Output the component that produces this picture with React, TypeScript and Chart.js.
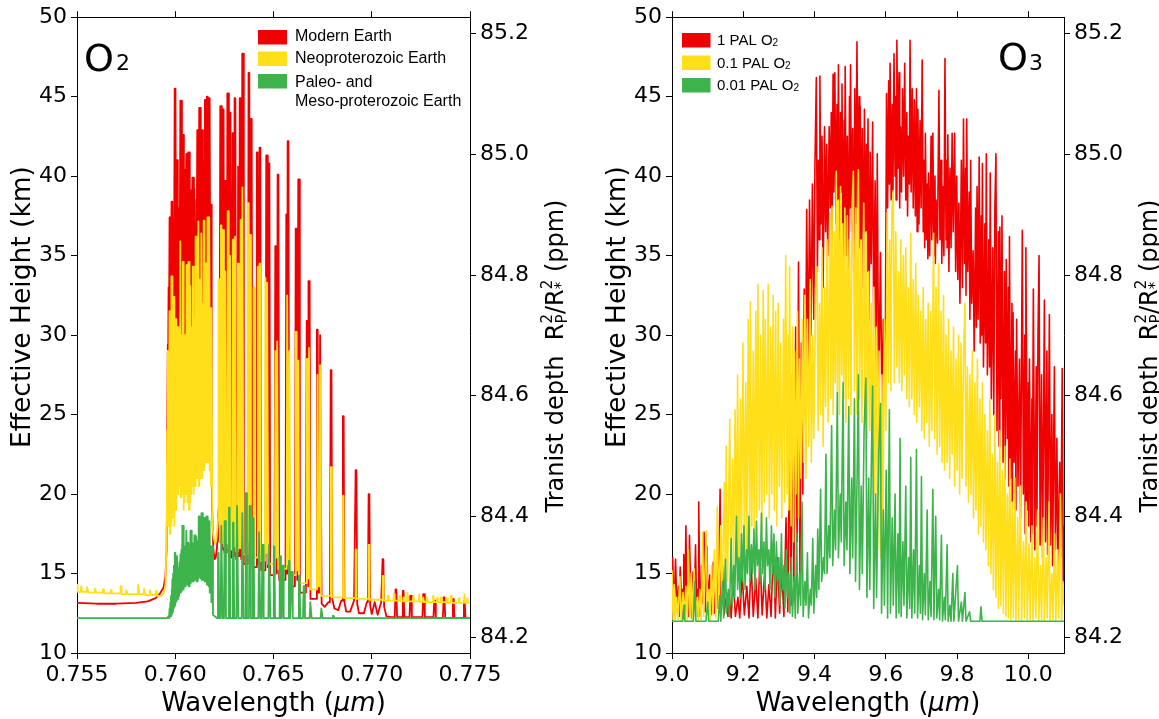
import React, { useEffect, useRef } from "react";
import { Chart, registerables } from "chart.js";

Chart.register(...registerables);

type Pt = [number, number];
// spectrum entry: [wavelength, value] = continuum sample, [wavelength, peak, troughAfter] = absorption line
type Entry = number[];

// ------------------------------------------------------------------ data
const kmRange = [10, 50];
const kmTicks = [10, 15, 20, 25, 30, 35, 40, 45, 50];
const ppmRange = [84.1735, 85.2273];
const ppmTicks = [84.2, 84.4, 84.6, 84.8, 85.0, 85.2];
const o2Range = [0.755, 0.775];
const o2XTicks = [0.755, 0.76, 0.765, 0.77, 0.775];
const o3Range = [9.0, 10.1];
const o3XTicks = [9.0, 9.2, 9.4, 9.6, 9.8, 10.0];

const o2LegendLabels = ["Modern Earth", "Neoproterozoic Earth", "Paleo- and", "Meso-proterozoic Earth"];
const o3LegendLabels = ["1 PAL O", "0.1 PAL O", "0.01 PAL O"];

// O2 A-band, Modern Earth
const o2Modern: Entry[] = [
  [0.755, 13.15], [0.756, 13.1], [0.757, 13.1], [0.758, 13.15], [0.7586, 13.25], [0.759, 13.45], [0.7592, 13.7], [0.7594, 14.1], [0.7595, 14.8], [0.75956, 16.5], [0.7596, 22.0],
  [0.75964, 29.4, 24.5], [0.75968, 33.0, 27.0], [0.75973, 37.4, 28.0], [0.75978, 34.0, 30.0], [0.75983, 38.4, 29.0], [0.75987, 35.0, 30.0], [0.75991, 36.5, 29.0], [0.75995, 33.0, 30.0], [0.75999, 45.5, 30.0], [0.76003, 36.0, 32.0], [0.76007, 41.0, 29.0], [0.76011, 34.0, 31.0], [0.76014, 34.5, 30.0], [0.76018, 36.9, 28.5], [0.76021, 33.0, 31.0], [0.76024, 38.0, 32.0], [0.76028, 44.75, 29.5], [0.76031, 35.0, 32.0], [0.76034, 37.5, 32.0], [0.76038, 42.6, 30.0], [0.76041, 34.0, 31.0], [0.76044, 35.5, 31.0], [0.76048, 40.4, 28.5], [0.76051, 35.0, 31.0], [0.76055, 37.0, 32.0], [0.76058, 41.4, 29.0], [0.76061, 34.0, 31.0], [0.76064, 36.0, 31.0], [0.76068, 41.5, 28.0], [0.76071, 34.0, 30.0], [0.76075, 35.0, 30.0], [0.76079, 39.1, 28.5], [0.76082, 34.0, 30.0], [0.76086, 36.5, 31.0], [0.76089, 39.9, 29.0], [0.76092, 35.0, 30.0], [0.76095, 39.2, 28.0], [0.76098, 33.0, 30.0], [0.76101, 34.0, 31.0], [0.76104, 36.5, 29.5], [0.76107, 35.0, 31.0], [0.7611, 38.5, 32.0], [0.76114, 42.9, 30.0], [0.76117, 36.0, 32.0], [0.7612, 38.0, 32.0], [0.76124, 44.3, 30.5], [0.76127, 36.0, 32.0], [0.76131, 39.0, 32.0], [0.76135, 42.9, 30.0], [0.76138, 35.0, 31.0], [0.76141, 37.5, 31.0], [0.76144, 41.0, 29.5], [0.76147, 36.0, 31.0], [0.7615, 39.0, 32.0], [0.76153, 44.8, 31.0], [0.76156, 37.0, 32.0], [0.7616, 40.0, 32.0], [0.76163, 45.0, 30.5], [0.76166, 36.0, 32.0], [0.7617, 41.0, 32.0], [0.76173, 44.9, 30.0], [0.76177, 34.0, 29.0], [0.76181, 38.2, 26.0],
  [0.76184, 24.0], [0.76188, 19.0], [0.76194, 16.5], [0.762, 15.9], [0.76206, 16.0], [0.76212, 16.6], [0.76216, 17.5], [0.7622, 19.0], [0.76224, 17.0],
  [0.76231, 44.4, 16.5], [0.76244, 44.2, 16.3], [0.76257, 39.7, 16.3], [0.76267, 45.2, 16.1], [0.76279, 44.0, 16.0], [0.76294, 42.7, 16.1], [0.76304, 44.9, 15.9], [0.76322, 40.6, 16.1], [0.7633, 44.9, 15.9], [0.76343, 47.7, 15.6], [0.76375, 46.5, 16.0], [0.76387, 43.6, 15.4], [0.76417, 41.5, 15.6], [0.76431, 41.8, 15.2], [0.76465, 41.3, 15.4], [0.76477, 40.8, 14.9], [0.76511, 35.6, 15.0], [0.76523, 40.1, 14.6], [0.76567, 37.6, 15.0], [0.76574, 42.2, 14.2], [0.76615, 36.7, 14.6], [0.76628, 39.8, 13.8], [0.76671, 30.9, 14.2], [0.76682, 33.4, 13.4], [0.76723, 30.35, 13.8], [0.76739, 30.0, 13.1],
  [0.7676, 12.9], [0.7678, 13.2], [0.76793, 27.8, 13.4], [0.7681, 12.8], [0.7683, 12.7], [0.76845, 13.3], [0.76855, 24.9, 13.2], [0.7687, 12.6], [0.7689, 12.6], [0.7691, 13.3], [0.7692, 21.5, 13.1], [0.76935, 12.5], [0.7696, 12.5], [0.76975, 13.2], [0.76986, 20.0, 13.0], [0.77, 12.45], [0.77015, 13.2], [0.7703, 12.4], [0.77048, 13.2], [0.77057, 15.9, 12.9], [0.77075, 12.3], [0.771, 12.25],
  [0.77123, 14.0, 12.25], [0.7716, 13.9, 12.25], [0.77198, 13.6, 12.25], [0.77264, 13.7, 12.25], [0.7732, 13.3, 12.2], [0.77368, 13.5, 12.2], [0.77415, 13.4, 12.2], [0.77471, 13.3, 12.2], [0.775, 12.2],
];

// O2 A-band, Neoproterozoic Earth
const o2Neo: Entry[] = [
  [0.755, 14.3], [0.75503, 13.85],
  [0.75523, 14.2, 13.85], [0.75553, 14.15, 13.8], [0.75593, 14.05, 13.8], [0.75633, 14.0, 13.75], [0.75673, 13.95, 13.75], [0.75723, 14.2, 13.7], [0.75753, 13.95, 13.7], [0.75813, 14.3, 13.7], [0.75843, 14.05, 13.65], [0.75873, 13.95, 13.65], [0.75903, 13.9, 13.6],
  [0.7593, 13.6], [0.7594, 13.75], [0.7595, 14.2], [0.75956, 17.0],
  [0.7596, 24.0, 20.0], [0.75963, 29.0, 18.0], [0.75967, 26.0, 18.0], [0.75972, 31.5, 17.5], [0.75977, 27.0, 18.0], [0.75983, 33.7, 18.5], [0.75988, 28.0, 19.0], [0.75993, 32.4, 18.0], [0.75998, 27.5, 19.0], [0.76003, 31.0, 19.0], [0.76008, 28.0, 20.0], [0.76013, 30.5, 20.0], [0.76018, 27.0, 20.5], [0.76022, 28.0, 21.0], [0.76027, 35.9, 19.8], [0.76032, 28.5, 20.0], [0.76036, 30.0, 20.0], [0.7604, 34.6, 19.0], [0.76045, 28.0, 19.5], [0.7605, 30.0, 20.0], [0.76055, 28.5, 20.0], [0.76059, 34.4, 19.5], [0.76064, 29.0, 19.5], [0.76069, 34.6, 19.0], [0.76073, 28.0, 19.5], [0.76078, 33.1, 20.0], [0.76082, 28.5, 20.5], [0.76086, 30.5, 21.0], [0.76091, 34.3, 20.0], [0.76096, 28.0, 20.5], [0.761, 31.0, 20.5], [0.76106, 36.2, 21.0], [0.7611, 29.0, 21.0], [0.76114, 32.0, 21.5], [0.76119, 37.15, 20.5], [0.76124, 29.5, 21.0], [0.76129, 33.5, 21.5], [0.76134, 36.4, 21.0], [0.76139, 30.0, 21.5], [0.76143, 32.0, 22.0], [0.76146, 37.2, 21.5], [0.76151, 30.0, 22.0], [0.76156, 34.5, 22.0], [0.76161, 30.5, 22.0], [0.76166, 37.4, 22.5], [0.7617, 30.0, 22.0], [0.76174, 37.4, 21.5], [0.76179, 29.0, 20.5], [0.76185, 31.7, 18.5],
  [0.7619, 17.8], [0.76196, 17.2], [0.76203, 16.9], [0.76209, 17.1], [0.76214, 17.8], [0.76218, 18.5],
  [0.76223, 33.5, 17.0], [0.76234, 36.9, 16.9], [0.76244, 36.6, 16.7], [0.76256, 34.0, 16.9], [0.76268, 37.8, 16.6], [0.7628, 35.0, 16.5], [0.76294, 36.0, 16.7], [0.76306, 36.2, 16.4], [0.7632, 34.5, 16.6], [0.76334, 37.25, 17.0], [0.76343, 39.3, 16.2], [0.7637, 38.3, 17.0], [0.76381, 36.3, 16.1], [0.764, 33.0, 16.0], [0.76421, 34.3, 16.5], [0.7643, 34.5, 15.8], [0.7646, 33.6, 16.3], [0.76469, 33.3, 15.6], [0.76511, 29.0, 16.0], [0.7652, 29.6, 15.3], [0.76571, 32.5, 15.6], [0.76582, 29.0, 14.9], [0.76614, 30.2, 15.2], [0.76626, 28.4, 14.4], [0.76671, 28.5, 14.7], [0.76682, 29.2, 14.0], [0.76725, 27.5, 14.2], [0.76737, 28.1, 13.6], [0.76793, 21.7, 13.5], [0.76855, 19.9, 13.45], [0.76919, 16.5, 13.4], [0.76985, 16.8, 13.35], [0.77057, 14.85, 13.3],
  [0.77083, 13.6, 13.3], [0.77113, 13.7, 13.3], [0.77143, 13.6, 13.25], [0.77163, 13.5, 13.25], [0.77183, 13.8, 13.25], [0.77213, 13.6, 13.25], [0.77243, 13.7, 13.2], [0.77263, 13.5, 13.2], [0.77283, 13.5, 13.2], [0.77313, 13.6, 13.2], [0.77333, 13.45, 13.2], [0.77353, 13.5, 13.2], [0.77383, 13.45, 13.15], [0.77403, 13.6, 13.15], [0.77443, 13.45, 13.15], [0.77473, 13.7, 13.15], [0.77488, 13.45, 13.15], [0.775, 13.15],
];

// O2 A-band, Paleo- and Meso-proterozoic Earth
const o2Paleo: Entry[] = [
  [0.755, 12.2], [0.7596, 12.2],
  [0.75966, 12.3, 12.2], [0.75973, 12.8, 12.3], [0.75977, 13.2, 12.4], [0.7598, 13.6, 12.5], [0.75984, 14.0, 12.6], [0.75987, 14.65, 12.8], [0.75991, 15.0, 12.9], [0.75995, 15.5, 13.0], [0.75999, 16.3, 13.2], [0.76003, 15.2, 13.3], [0.76007, 15.0, 13.5], [0.76011, 16.1, 13.4], [0.76015, 15.3, 13.6], [0.7602, 15.2, 13.8], [0.76024, 15.7, 13.8], [0.76028, 16.2, 13.9], [0.76033, 16.5, 14.0], [0.76038, 18.0, 14.0], [0.76043, 16.0, 14.2], [0.76048, 16.7, 14.2], [0.76053, 16.3, 14.3], [0.76058, 17.7, 14.3], [0.76063, 16.5, 14.3], [0.76068, 16.95, 14.2], [0.76074, 16.6, 14.4], [0.76079, 17.7, 14.5], [0.76084, 16.8, 14.5], [0.76089, 16.9, 14.5], [0.76094, 16.6, 14.6], [0.76099, 17.4, 14.6], [0.76104, 16.9, 14.6], [0.76109, 17.3, 14.5], [0.76115, 17.0, 14.7], [0.76122, 18.6, 14.8], [0.76128, 17.4, 14.7], [0.76135, 18.8, 14.6], [0.7614, 17.5, 14.6], [0.76146, 18.5, 14.5], [0.76153, 17.3, 14.5], [0.7616, 18.6, 14.3], [0.76166, 17.0, 14.2], [0.76173, 18.3, 13.8], [0.7618, 16.0, 13.2], [0.76187, 16.7, 12.4],
  [0.76212, 12.2],
  [0.76219, 16.3, 12.2], [0.76236, 18.0, 12.2], [0.76253, 18.3, 12.2], [0.76275, 19.15, 12.2], [0.76295, 18.2, 12.2], [0.76316, 19.25, 12.2], [0.76343, 18.8, 12.2], [0.7636, 20.05, 12.2], [0.7638, 19.25, 12.2], [0.76397, 18.5, 12.2], [0.76428, 17.6, 12.2], [0.76445, 16.8, 12.2], [0.76479, 16.8, 12.2], [0.76503, 16.7, 12.2], [0.76533, 16.1, 12.2], [0.76547, 15.5, 12.2], [0.7658, 15.8, 12.2], [0.76593, 15.1, 12.2], [0.76631, 14.85, 12.2], [0.76655, 14.2, 12.2], [0.76689, 13.2, 12.2], [0.76745, 12.8, 12.2], [0.76804, 12.35, 12.2],
  [0.775, 12.2],
];

// O3 9.6 um band, 1 PAL O2
const o3Pal1: Pt[] = [
  [9.0, 14.6], [9.002, 16.0], [9.005, 12.4], [9.01, 15.9], [9.014, 12.6], [9.018, 14.2], [9.02, 12.3], [9.023, 15.4], [9.027, 13.1], [9.03, 14.0], [9.031, 12.2], [9.033, 16.2], [9.036, 13.0], [9.039, 18.0], [9.042, 12.8], [9.046, 14.5], [9.047, 12.3], [9.049, 17.4], [9.053, 13.3], [9.056, 12.2], [9.059, 15.1], [9.062, 12.7], [9.066, 16.8], [9.069, 12.9], [9.072, 14.0], [9.073, 12.3], [9.075, 19.5], [9.078, 13.2], [9.081, 12.4], [9.083, 15.5], [9.087, 13.1], [9.09, 17.6], [9.093, 12.6], [9.098, 16.7], [9.101, 13.0], [9.106, 14.9], [9.109, 12.4], [9.113, 13.6], [9.116, 15.7], [9.119, 12.5], [9.124, 14.2], [9.127, 16.3], [9.13, 12.8], [9.135, 20.3], [9.138, 12.6], [9.142, 15.5], [9.146, 12.4], [9.153, 13.8], [9.157, 12.3],
  [9.16, 13.9], [9.166, 12.2], [9.172, 14.6], [9.178, 12.3], [9.185, 13.5], [9.19, 12.2], [9.197, 15.0], [9.203, 12.4], [9.21, 14.2], [9.216, 12.2], [9.222, 15.8], [9.228, 12.3], [9.235, 14.7], [9.241, 12.2], [9.247, 16.2], [9.253, 12.4], [9.26, 15.1], [9.266, 12.2], [9.272, 14.3], [9.278, 12.3], [9.285, 17.0], [9.29, 12.2], [9.296, 16.0], [9.302, 12.5], [9.308, 15.2], [9.314, 12.3], [9.32, 18.5], [9.325, 12.6],
  [9.33, 24.0], [9.334, 13.0], [9.338, 27.5], [9.342, 14.5], [9.347, 30.5], [9.351, 17.0], [9.355, 34.6], [9.359, 15.0], [9.363, 29.5], [9.367, 20.0], [9.371, 32.9], [9.374, 25.0], [9.378, 37.9], [9.382, 28.0], [9.386, 38.5], [9.39, 30.0], [9.394, 39.5], [9.398, 31.0], [9.401, 40.5],
  [9.405, 46.2], [9.408, 34.0], [9.411, 41.0], [9.413, 36.0], [9.415, 46.3], [9.418, 37.0], [9.421, 42.5], [9.424, 33.0], [9.428, 43.1], [9.431, 36.5], [9.434, 42.0], [9.437, 35.0], [9.441, 43.1], [9.444, 38.0], [9.447, 44.0], [9.449, 35.5], [9.452, 46.4], [9.454, 39.0], [9.457, 46.5], [9.46, 37.0], [9.463, 44.5], [9.465, 38.5], [9.467, 47.0], [9.47, 36.0], [9.473, 44.0], [9.475, 39.0], [9.477, 45.8], [9.48, 34.5], [9.483, 43.5], [9.484, 37.5], [9.486, 46.9], [9.489, 35.0], [9.492, 42.5], [9.495, 33.5], [9.498, 45.0], [9.499, 38.0], [9.501, 47.0], [9.504, 36.5], [9.507, 43.0], [9.51, 34.0], [9.513, 45.5], [9.516, 37.0], [9.519, 48.45], [9.522, 38.0], [9.525, 45.0], [9.527, 35.5], [9.528, 44.4], [9.531, 36.0], [9.534, 43.0], [9.537, 33.0], [9.54, 44.2], [9.543, 36.5], [9.546, 42.0], [9.548, 34.0], [9.55, 43.6], [9.553, 31.0], [9.556, 41.5], [9.559, 34.5], [9.563, 43.4], [9.566, 30.5], [9.57, 39.7], [9.573, 28.0], [9.576, 41.4], [9.58, 26.0], [9.585, 35.2], [9.589, 25.5], [9.593, 31.0], [9.596, 29.9], [9.598, 25.8],
  [9.602, 45.2], [9.605, 38.0], [9.608, 46.0], [9.61, 39.5], [9.612, 47.1], [9.615, 38.5], [9.618, 44.5], [9.62, 39.0], [9.623, 47.7], [9.626, 40.0], [9.628, 45.0], [9.629, 38.5], [9.631, 48.55], [9.634, 40.5], [9.637, 46.5], [9.639, 38.0], [9.641, 43.1], [9.644, 39.0], [9.647, 45.5], [9.65, 40.0], [9.653, 47.1], [9.656, 38.5], [9.659, 44.0], [9.661, 37.5], [9.663, 42.5], [9.666, 39.5], [9.668, 48.55], [9.671, 39.0], [9.674, 45.5], [9.677, 38.0], [9.68, 44.8], [9.683, 37.5], [9.686, 45.5], [9.688, 36.5], [9.69, 44.2], [9.693, 37.0], [9.696, 43.5], [9.699, 38.0], [9.702, 47.3], [9.705, 36.5], [9.708, 41.0], [9.709, 35.5], [9.711, 42.7], [9.714, 36.0], [9.717, 39.5], [9.718, 34.8], [9.72, 40.2], [9.723, 35.0], [9.727, 42.5], [9.729, 36.0], [9.732, 42.7], [9.735, 35.0], [9.738, 40.0], [9.739, 34.5], [9.741, 38.5], [9.745, 35.8], [9.749, 45.4], [9.752, 36.0], [9.755, 41.0], [9.757, 34.5], [9.76, 39.35], [9.763, 35.0], [9.766, 47.4], [9.769, 36.0], [9.771, 41.0], [9.772, 35.5], [9.774, 42.6], [9.777, 34.0], [9.78, 40.5], [9.783, 35.5], [9.786, 42.7], [9.789, 36.5], [9.793, 42.7], [9.796, 34.0], [9.799, 40.0], [9.802, 33.5], [9.805, 38.3], [9.808, 32.0], [9.812, 41.0], [9.815, 33.0], [9.818, 43.6], [9.821, 34.5], [9.824, 40.5], [9.825, 32.5], [9.827, 43.6], [9.83, 34.0], [9.834, 39.0], [9.836, 31.0], [9.838, 41.0], [9.841, 32.0], [9.845, 35.3], [9.848, 29.0], [9.852, 38.0], [9.854, 30.5], [9.856, 39.35], [9.859, 31.0], [9.862, 41.2], [9.865, 29.5], [9.868, 37.5], [9.869, 30.0], [9.871, 40.8], [9.874, 28.0], [9.878, 37.0], [9.88, 29.5], [9.882, 41.4], [9.885, 27.5], [9.889, 36.0], [9.891, 28.0], [9.893, 40.2], [9.896, 26.0], [9.9, 35.5], [9.903, 25.0], [9.906, 38.0], [9.909, 41.4], [9.912, 24.0], [9.916, 36.5], [9.918, 23.0], [9.92, 36.8], [9.923, 26.0], [9.926, 37.5], [9.929, 22.0], [9.933, 34.0], [9.935, 21.0], [9.938, 34.75], [9.941, 23.5], [9.944, 33.0], [9.945, 20.5], [9.947, 36.2], [9.95, 21.0], [9.954, 32.0], [9.955, 19.5], [9.957, 31.4], [9.96, 22.0], [9.964, 29.0], [9.965, 19.0], [9.967, 31.0], [9.971, 20.5], [9.975, 28.5], [9.978, 18.5], [9.983, 36.6], [9.986, 20.0], [9.99, 30.0], [9.991, 17.5], [9.993, 35.5], [9.997, 19.0], [10.0, 27.0], [10.001, 18.0], [10.003, 28.5], [10.007, 17.0], [10.01, 26.0], [10.011, 17.5], [10.014, 32.9], [10.018, 16.5], [10.022, 28.0], [10.024, 18.0], [10.027, 30.0], [10.03, 35.0], [10.033, 16.8], [10.037, 27.5], [10.04, 16.0], [10.045, 32.2], [10.048, 17.0], [10.052, 29.0], [10.054, 16.2], [10.059, 31.3], [10.062, 16.8], [10.066, 25.0], [10.068, 15.5], [10.073, 28.0], [10.076, 16.5], [10.08, 23.5], [10.083, 15.5], [10.088, 22.0], [10.091, 16.0], [10.095, 27.9], [10.098, 14.4], [10.1, 18.0],
];

// O3 9.6 um band, 0.1 PAL O2
const o3Pal01: Pt[] = [
  [9.0, 15.2], [9.003, 12.1], [9.006, 14.3], [9.009, 12.0], [9.013, 13.5], [9.017, 12.1], [9.022, 14.8], [9.026, 12.0], [9.031, 13.8], [9.034, 12.2], [9.039, 14.2], [9.043, 12.0], [9.046, 16.5], [9.05, 12.2], [9.054, 15.0], [9.057, 12.0], [9.062, 15.3], [9.066, 12.3], [9.071, 13.5], [9.074, 12.0], [9.078, 14.0], [9.082, 12.1], [9.086, 17.6], [9.089, 12.3], [9.096, 17.7], [9.1, 12.5], [9.104, 14.0], [9.107, 12.1], [9.111, 15.5], [9.115, 12.4], [9.119, 16.5], [9.123, 12.2], [9.127, 19.2], [9.131, 12.6], [9.137, 18.0], [9.14, 13.0], [9.147, 20.7], [9.15, 13.5], [9.152, 23.0], [9.156, 14.5], [9.162, 24.7], [9.165, 15.0], [9.17, 22.2], [9.173, 15.5], [9.177, 25.3], [9.181, 16.0], [9.184, 27.5], [9.188, 15.0], [9.192, 26.0], [9.195, 16.5], [9.199, 29.5], [9.203, 17.0], [9.207, 27.0], [9.21, 16.0], [9.214, 31.0], [9.218, 17.5], [9.22, 32.1], [9.224, 18.0], [9.228, 29.0], [9.231, 16.5], [9.235, 31.5], [9.238, 18.5], [9.241, 33.2], [9.245, 19.0], [9.249, 30.0], [9.252, 17.5], [9.256, 32.8], [9.259, 19.5], [9.262, 31.0], [9.266, 20.0], [9.27, 33.2], [9.273, 18.5], [9.277, 30.5], [9.28, 20.0], [9.284, 32.5], [9.287, 19.0], [9.291, 31.5], [9.294, 18.0], [9.298, 32.0], [9.301, 20.5], [9.305, 29.5], [9.308, 18.5], [9.313, 31.0], [9.316, 19.5], [9.319, 35.0], [9.323, 20.0], [9.326, 30.0], [9.328, 19.0], [9.33, 34.3], [9.334, 18.0], [9.338, 30.5], [9.341, 17.0], [9.344, 29.0], [9.348, 20.0], [9.352, 31.5], [9.355, 18.5], [9.358, 28.5], [9.362, 21.0], [9.366, 31.0], [9.369, 22.0], [9.373, 32.5], [9.376, 21.0], [9.38, 31.0], [9.384, 23.0], [9.388, 33.5], [9.391, 22.0], [9.395, 30.0], [9.398, 23.5], [9.403, 33.0], [9.407, 34.3], [9.41, 24.0], [9.414, 32.0], [9.417, 25.0], [9.421, 35.5], [9.424, 23.0], [9.428, 33.0], [9.431, 25.5], [9.435, 36.0], [9.438, 24.5], [9.443, 37.7], [9.446, 26.0], [9.449, 38.1], [9.452, 25.0], [9.455, 36.5], [9.458, 27.0], [9.461, 40.3], [9.464, 26.5], [9.467, 38.5], [9.47, 25.0], [9.473, 39.35], [9.476, 27.5], [9.479, 37.0], [9.482, 26.0], [9.485, 38.0], [9.488, 24.5], [9.492, 37.5], [9.495, 26.0], [9.498, 36.0], [9.502, 25.0], [9.505, 38.0], [9.509, 40.3], [9.512, 26.5], [9.516, 38.0], [9.519, 25.0], [9.523, 40.4], [9.526, 26.0], [9.53, 36.0], [9.533, 24.5], [9.538, 38.3], [9.541, 25.5], [9.545, 36.5], [9.548, 23.5], [9.552, 34.0], [9.555, 24.0], [9.559, 32.0], [9.562, 22.5], [9.566, 33.0], [9.569, 20.0], [9.573, 30.5], [9.577, 16.5], [9.581, 29.0], [9.585, 16.0], [9.589, 27.5], [9.592, 18.0], [9.596, 31.0], [9.6, 24.0], [9.604, 37.7], [9.607, 27.0], [9.611, 36.0], [9.614, 26.5], [9.617, 38.0], [9.621, 39.1], [9.624, 27.0], [9.628, 36.5], [9.631, 28.0], [9.635, 34.0], [9.638, 27.0], [9.642, 36.0], [9.645, 26.5], [9.649, 35.0], [9.652, 27.5], [9.656, 35.5], [9.659, 26.0], [9.663, 33.0], [9.666, 25.5], [9.67, 36.4], [9.673, 26.0], [9.677, 33.5], [9.68, 25.0], [9.684, 34.5], [9.687, 24.5], [9.691, 32.5], [9.694, 25.5], [9.698, 31.5], [9.701, 24.0], [9.705, 33.0], [9.708, 23.5], [9.712, 31.0], [9.715, 24.5], [9.719, 32.0], [9.722, 23.0], [9.726, 31.5], [9.729, 24.0], [9.734, 36.4], [9.737, 23.5], [9.741, 33.0], [9.744, 22.5], [9.748, 34.5], [9.751, 23.0], [9.755, 31.5], [9.758, 22.0], [9.762, 32.5], [9.765, 21.5], [9.769, 30.0], [9.772, 22.0], [9.776, 31.0], [9.779, 21.0], [9.783, 29.0], [9.786, 22.5], [9.79, 30.5], [9.793, 20.5], [9.797, 28.5], [9.8, 21.5], [9.804, 30.0], [9.807, 20.0], [9.811, 29.5], [9.814, 21.0], [9.818, 28.5], [9.822, 32.0], [9.825, 20.5], [9.829, 28.0], [9.832, 19.5], [9.836, 27.5], [9.839, 20.0], [9.843, 29.0], [9.846, 18.5], [9.85, 27.0], [9.853, 19.0], [9.857, 28.5], [9.86, 17.5], [9.864, 26.0], [9.867, 18.0], [9.871, 27.0], [9.874, 17.0], [9.878, 25.0], [9.881, 16.5], [9.885, 24.0], [9.888, 15.5], [9.892, 26.0], [9.895, 15.0], [9.899, 22.5], [9.902, 14.0], [9.906, 25.0], [9.909, 13.5], [9.913, 22.0], [9.916, 12.8], [9.92, 24.0], [9.923, 13.0], [9.927, 21.5], [9.93, 12.5], [9.934, 23.0], [9.937, 12.3], [9.941, 20.0], [9.944, 12.2], [9.948, 22.2], [9.951, 12.1], [9.955, 19.5], [9.958, 12.2], [9.962, 21.0], [9.965, 12.0], [9.97, 18.5], [9.973, 12.1], [9.978, 20.5], [9.981, 12.0], [9.986, 17.0], [9.989, 12.2], [9.994, 19.5], [9.997, 12.0], [10.002, 16.9], [10.005, 12.1], [10.01, 18.0], [10.013, 12.0], [10.018, 16.0], [10.021, 12.2], [10.026, 19.0], [10.029, 12.0], [10.034, 15.5], [10.037, 12.1], [10.042, 18.5], [10.045, 12.0], [10.05, 16.0], [10.053, 12.2], [10.058, 19.5], [10.061, 12.0], [10.066, 15.0], [10.069, 12.1], [10.074, 17.5], [10.077, 12.0], [10.082, 16.5], [10.085, 12.2], [10.09, 20.0], [10.093, 12.0], [10.097, 14.5], [10.1, 13.0],
];

// O3 9.6 um band, 0.01 PAL O2
const o3Pal001: Pt[] = [
  [9.0, 12.0], [9.03, 12.0], [9.034, 13.0], [9.036, 12.0], [9.06, 12.0], [9.064, 14.5], [9.067, 12.0], [9.095, 12.0], [9.1, 13.2], [9.103, 12.0], [9.13, 12.0], [9.134, 13.6], [9.137, 12.0], [9.142, 14.5], [9.145, 12.2], [9.15, 15.9], [9.153, 12.5], [9.158, 14.0], [9.161, 12.3], [9.166, 17.2], [9.169, 13.0], [9.173, 15.5], [9.176, 13.5], [9.181, 18.6], [9.184, 14.0], [9.188, 16.0], [9.191, 13.5], [9.195, 17.5], [9.198, 14.5], [9.202, 18.0], [9.205, 14.0], [9.209, 16.5], [9.212, 15.0], [9.216, 18.6], [9.219, 14.5], [9.223, 16.8], [9.226, 15.0], [9.23, 17.8], [9.233, 14.0], [9.237, 18.3], [9.24, 15.5], [9.244, 16.5], [9.247, 14.5], [9.251, 18.8], [9.254, 15.0], [9.258, 17.0], [9.261, 14.0], [9.265, 18.5], [9.268, 15.5], [9.272, 16.5], [9.275, 14.0], [9.279, 18.0], [9.282, 15.0], [9.286, 17.5], [9.289, 13.5], [9.293, 17.0], [9.296, 14.5], [9.3, 16.0], [9.303, 13.0], [9.307, 17.5], [9.31, 14.0], [9.314, 15.5], [9.317, 12.8], [9.321, 16.5], [9.324, 13.5], [9.328, 15.0], [9.331, 12.5], [9.335, 16.0], [9.338, 12.3], [9.343, 14.8], [9.346, 12.2], [9.35, 17.5], [9.353, 12.5], [9.358, 15.0], [9.361, 13.0], [9.365, 19.5], [9.368, 12.3], [9.373, 14.5], [9.376, 13.0], [9.38, 16.3], [9.383, 12.2], [9.388, 14.0], [9.391, 13.0], [9.395, 17.2], [9.398, 12.5], [9.403, 15.5], [9.406, 13.5], [9.409, 17.8], [9.412, 14.0], [9.417, 20.3], [9.42, 14.5], [9.425, 16.0], [9.428, 15.0], [9.432, 22.5], [9.435, 15.0], [9.44, 18.0], [9.443, 16.0], [9.448, 24.3], [9.451, 15.5], [9.456, 19.0], [9.459, 16.5], [9.464, 26.4], [9.467, 16.0], [9.472, 20.0], [9.475, 17.0], [9.48, 27.0], [9.483, 15.5], [9.488, 19.5], [9.491, 16.5], [9.496, 25.5], [9.499, 15.0], [9.504, 21.0], [9.507, 16.0], [9.512, 26.0], [9.515, 14.5], [9.52, 22.0], [9.523, 27.5], [9.526, 14.0], [9.531, 20.5], [9.534, 15.0], [9.539, 24.0], [9.544, 27.3], [9.547, 13.5], [9.552, 21.0], [9.555, 14.0], [9.56, 23.0], [9.563, 26.8], [9.566, 12.8], [9.571, 20.0], [9.574, 13.5], [9.58, 22.5], [9.585, 25.7], [9.588, 12.5], [9.593, 19.0], [9.596, 13.0], [9.601, 21.5], [9.605, 12.2], [9.61, 25.3], [9.613, 12.5], [9.618, 18.5], [9.621, 13.0], [9.626, 20.0], [9.629, 12.2], [9.634, 17.5], [9.637, 12.5], [9.64, 23.5], [9.643, 12.3], [9.648, 17.0], [9.651, 13.0], [9.656, 20.5], [9.659, 12.2], [9.664, 16.0], [9.667, 12.8], [9.67, 22.3], [9.673, 12.2], [9.678, 16.5], [9.681, 12.5], [9.686, 22.8], [9.689, 12.2], [9.694, 15.5], [9.697, 12.5], [9.7, 21.1], [9.703, 12.1], [9.708, 15.0], [9.711, 12.4], [9.716, 19.0], [9.719, 12.1], [9.724, 14.5], [9.727, 12.3], [9.732, 20.3], [9.735, 12.1], [9.74, 18.6], [9.743, 12.2], [9.748, 14.0], [9.751, 12.1], [9.756, 17.4], [9.759, 12.0], [9.764, 13.5], [9.767, 12.1], [9.772, 16.8], [9.775, 12.0], [9.78, 13.0], [9.783, 12.0], [9.788, 15.0], [9.791, 12.0], [9.801, 15.5], [9.804, 12.0], [9.812, 13.2], [9.815, 12.0], [9.822, 13.8], [9.825, 12.0], [9.835, 12.6], [9.838, 12.0], [9.864, 12.0], [9.867, 12.9], [9.87, 12.0], [10.1, 12.0],
];

// ------------------------------------------------------------------ styles
const RED = "#f00000";
const YELLOW = "#ffdf1a";
const GREEN = "#3cb44b";
const FAMILY = "DejaVu Sans";
const LEG_FAMILY = "Liberation Sans";

// drawn half-width (um) of one O2 absorption line for each atmosphere
const HW_MODERN = 0.00006;
const HW_NEO = 0.00004;
const HW_PALEO = 0.00005;

function spectrum(entries: Entry[], hw: number) {
  const pts: { x: number; y: number }[] = [];
  let last = entries[0][1];
  for (const e of entries) {
    if (e.length === 2) {
      pts.push({ x: e[0], y: e[1] });
      last = e[1];
    } else {
      pts.push(
        { x: e[0] - hw, y: last },
        { x: e[0] - hw / 3, y: e[1] },
        { x: e[0] + hw / 3, y: e[1] },
        { x: e[0] + hw, y: e[2] }
      );
      last = e[2];
    }
  }
  return pts;
}

function polyline(data: Pt[]) {
  return data.map(([x, y]) => ({ x, y }));
}

function font(size: number, family = FAMILY, italic = false) {
  return `${italic ? "italic " : ""}${size}px "${family}"`;
}

type Seg = { t: string; size: number; italic?: boolean } | { sup: string; sub: string; size: number; supDy: number; subDy: number };

function segWidth(ctx: CanvasRenderingContext2D, s: Seg) {
  if ("t" in s) {
    ctx.font = font(s.size, FAMILY, !!s.italic);
    return ctx.measureText(s.t).width;
  }
  ctx.font = font(s.size);
  return Math.max(ctx.measureText(s.sup).width, ctx.measureText(s.sub).width);
}

function drawSegs(ctx: CanvasRenderingContext2D, segs: Seg[], x: number, y: number) {
  const widths = segs.map((s) => segWidth(ctx, s));
  const total = widths.reduce((a, b) => a + b, 0);
  let cur = x - total / 2;
  ctx.textAlign = "left";
  ctx.textBaseline = "alphabetic";
  segs.forEach((s, i) => {
    if ("t" in s) {
      ctx.font = font(s.size, FAMILY, !!s.italic);
      ctx.fillText(s.t, cur, y);
    } else {
      ctx.font = font(s.size);
      ctx.fillText(s.sup, cur, y + s.supDy);
      ctx.fillText(s.sub, cur, y + s.subDy);
    }
    cur += widths[i];
  });
}

function drawRotated(ctx: CanvasRenderingContext2D, segs: Seg[], x: number, y: number) {
  ctx.save();
  ctx.translate(x, y);
  ctx.rotate(-Math.PI / 2);
  drawSegs(ctx, segs, 0, 0);
  ctx.restore();
}

const leftTitle: Seg[] = [{ t: "Effective Height (km)", size: 26.5 }];
const xTitle: Seg[] = [
  { t: "Wavelength (", size: 26 },
  { t: "\u03bcm", size: 26, italic: true },
  { t: ")", size: 26 },
];
const rightTitle: Seg[] = [
  { t: "Tranist depth  R", size: 24 },
  { sup: "2", sub: "P", size: 15, supDy: -11, subDy: 4 },
  { t: "/R", size: 24 },
  { sup: "2", sub: "*", size: 15, supDy: -11, subDy: 3 },
  { t: " (ppm)", size: 24 },
];

function drawCommon(ctx: CanvasRenderingContext2D, a: any) {
  drawRotated(ctx, leftTitle, a.left - 47, 307);
  drawSegs(ctx, xTitle, (a.left + a.right) / 2, 711);
  drawRotated(ctx, rightTitle, a.right + 93, 356);
}

function decorateO2(ctx: CanvasRenderingContext2D, a: any) {
  ctx.save();
  ctx.fillStyle = "#000";
  ctx.textAlign = "left";
  ctx.textBaseline = "alphabetic";
  ctx.font = font(38);
  ctx.fillText("O", a.left + 7, 71);
  const ow = ctx.measureText("O").width;
  ctx.font = font(22);
  ctx.fillText("2", a.left + 7 + ow + 2, 70);
  const colors = [RED, YELLOW, GREEN];
  const boxTops = [30, 51.5, 74];
  colors.forEach((c, i) => {
    ctx.fillStyle = c;
    ctx.fillRect(a.left + 181, boxTops[i], 29, 14.5);
  });
  ctx.fillStyle = "#000";
  ctx.font = font(16, LEG_FAMILY);
  const baselines = [41, 63, 87, 106];
  o2LegendLabels.forEach((t, i) => ctx.fillText(t, a.left + 218, baselines[i]));
  drawCommon(ctx, a);
  ctx.restore();
}

function decorateO3(ctx: CanvasRenderingContext2D, a: any) {
  ctx.save();
  ctx.fillStyle = "#000";
  ctx.textAlign = "left";
  ctx.textBaseline = "alphabetic";
  ctx.font = font(38);
  ctx.fillText("O", a.right - 66, 70);
  const ow = ctx.measureText("O").width;
  ctx.font = font(22);
  ctx.fillText("3", a.right - 66 + ow + 1, 70);
  const colors = [RED, YELLOW, GREEN];
  const boxTops = [33, 55.5, 78];
  colors.forEach((c, i) => {
    ctx.fillStyle = c;
    ctx.fillRect(a.left + 10, boxTops[i], 28.5, 14.5);
  });
  ctx.fillStyle = "#000";
  const baselines = [45, 67.5, 90];
  o3LegendLabels.forEach((t, i) => {
    ctx.font = font(15, LEG_FAMILY);
    ctx.fillText(t, a.left + 45, baselines[i]);
    const w = ctx.measureText(t).width;
    ctx.font = font(10, LEG_FAMILY);
    ctx.fillText("2", a.left + 45 + w, baselines[i] + 1);
  });
  drawCommon(ctx, a);
  ctx.restore();
}

interface PanelSpec {
  leftW: number;
  rightW: number;
  xRange: number[];
  xTicks: number[];
  xDigits: number;
  lineWidth: number;
  series: { data: { x: number; y: number }[]; color: string }[];
  decorate: (ctx: CanvasRenderingContext2D, a: any) => void;
}

function buildChart(canvas: HTMLCanvasElement, spec: PanelSpec) {
  const tickFont = { family: FAMILY, size: 22 };
  const grid = { display: true, drawOnChartArea: false, drawTicks: true, tickLength: 6, color: "#000", tickColor: "#000", tickWidth: 1 };
  const border = { display: true, color: "#000", width: 1 };
  const n = spec.series.length;
  const datasets = spec.series.map((s, i) => ({
    data: s.data,
    borderColor: s.color,
    backgroundColor: s.color,
    borderWidth: spec.lineWidth,
    pointRadius: 0,
    tension: 0,
    fill: false,
    borderJoinStyle: "round",
    order: n - i,
    xAxisID: "x",
    yAxisID: "y",
  }));
  const setTicks = (vals: number[]) => (scale: any) => {
    scale.ticks = vals.map((v) => ({ value: v }));
  };
  return new Chart(canvas, {
    type: "line",
    data: { datasets } as any,
    options: {
      animation: false,
      responsive: false,
      events: [],
      layout: { padding: 0 },
      plugins: { legend: { display: false }, tooltip: { enabled: false } },
      scales: {
        x: {
          type: "linear",
          position: "bottom",
          min: spec.xRange[0],
          max: spec.xRange[1],
          afterBuildTicks: setTicks(spec.xTicks),
          ticks: { font: tickFont, color: "#000", padding: 3, maxRotation: 0, minRotation: 0, autoSkip: false, callback: (v: any) => Number(v).toFixed(spec.xDigits) },
          grid,
          border,
          afterFit: (s: any) => { s.height = 66; },
        },
        x2: {
          type: "linear",
          position: "top",
          min: spec.xRange[0],
          max: spec.xRange[1],
          afterBuildTicks: setTicks(spec.xTicks),
          ticks: { font: tickFont, color: "#000", maxRotation: 0, autoSkip: false, callback: () => "" },
          grid,
          border,
          afterFit: (s: any) => { s.height = 17; },
        },
        y: {
          type: "linear",
          position: "left",
          min: kmRange[0],
          max: kmRange[1],
          afterBuildTicks: setTicks(kmTicks),
          ticks: { font: tickFont, color: "#000", padding: 4, callback: (v: any) => String(v) },
          grid,
          border,
          afterFit: (s: any) => { s.width = spec.leftW; },
        },
        y2: {
          type: "linear",
          position: "right",
          min: ppmRange[0],
          max: ppmRange[1],
          afterBuildTicks: setTicks(ppmTicks),
          ticks: { font: tickFont, color: "#000", padding: 4, callback: (v: any) => Number(v).toFixed(1) },
          grid,
          border,
          afterFit: (s: any) => { s.width = spec.rightW; },
        },
      },
    } as any,
    plugins: [
      {
        id: "decor",
        afterDraw: (chart: any) => spec.decorate(chart.ctx, chart.chartArea),
      },
    ],
  });
}

const LEFT_W = 590;
const RIGHT_W = 569;
const H = 719;

export default function App() {
  const leftRef = useRef<HTMLCanvasElement>(null);
  const rightRef = useRef<HTMLCanvasElement>(null);

  useEffect(() => {
    const c1 = buildChart(leftRef.current!, {
      leftW: 77,
      rightW: 120,
      xRange: o2Range,
      xTicks: o2XTicks,
      xDigits: 3,
      lineWidth: 1.8,
      series: [
        { data: spectrum(o2Modern, HW_MODERN), color: RED },
        { data: spectrum(o2Neo, HW_NEO), color: YELLOW },
        { data: spectrum(o2Paleo, HW_PALEO), color: GREEN },
      ],
      decorate: decorateO2,
    });
    const c2 = buildChart(rightRef.current!, {
      leftW: 82,
      rightW: 95,
      xRange: o3Range,
      xTicks: o3XTicks,
      xDigits: 1,
      lineWidth: 1.6,
      series: [
        { data: polyline(o3Pal1), color: RED },
        { data: polyline(o3Pal01), color: YELLOW },
        { data: polyline(o3Pal001), color: GREEN },
      ],
      decorate: decorateO3,
    });
    return () => {
      c1.destroy();
      c2.destroy();
    };
  }, []);

  return (
    <div style={{ position: "absolute", left: 0, top: 0, width: 1159, height: H, background: "#fff", overflow: "hidden" }}>
      <canvas ref={leftRef} width={LEFT_W} height={H} style={{ position: "absolute", left: 0, top: 0, width: LEFT_W, height: H }} />
      <canvas ref={rightRef} width={RIGHT_W} height={H} style={{ position: "absolute", left: LEFT_W, top: 0, width: RIGHT_W, height: H }} />
    </div>
  );
}
